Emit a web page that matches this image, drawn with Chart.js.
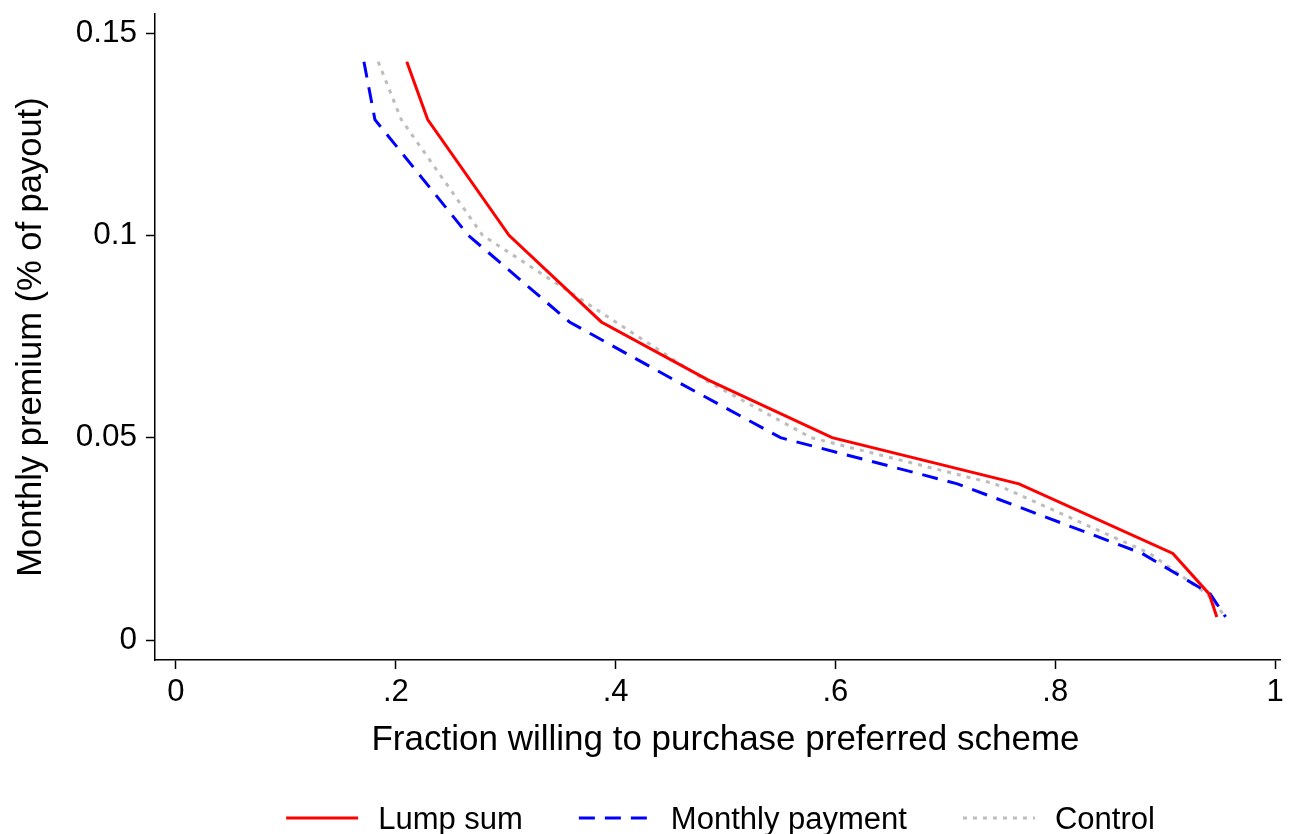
<!DOCTYPE html>
<html>
<head>
<meta charset="utf-8">
<title>Willingness to purchase by premium</title>
<script src="https://cdn.jsdelivr.net/npm/chart.js@4.4.1/dist/chart.umd.min.js"></script>
<style>
  html, body { margin: 0; padding: 0; background: #fff; }
  #wrap { width: 1291px; height: 834px; }
</style>
</head>
<body>
<div id="wrap"><canvas id="myChart" width="1291" height="834"></canvas></div>
<script>
// premium levels offered (share of payout), highest first
const premiums = [0.1429, 0.1286, 0.1, 0.0786, 0.0643, 0.05, 0.0386, 0.0214, 0.0114, 0.0057];

// fraction willing to buy at each premium level
const lumpSum = [0.210, 0.229, 0.303, 0.387, 0.484, 0.597, 0.767, 0.907, 0.940, 0.947];
const monthlyPayment = [0.171, 0.181, 0.266, 0.358, 0.453, 0.550, 0.711, 0.879, 0.941, 0.955];
const control = [0.184, 0.205, 0.279, 0.400, 0.481, 0.578, 0.745, 0.886, 0.938, 0.955];

const xTickValues = [0, 0.2, 0.4, 0.6, 0.8, 1];
const xTickLabels = ['0', '.2', '.4', '.6', '.8', '1'];
const yTickValues = [0, 0.05, 0.1, 0.15];
const yTickLabels = ['0', '0.05', '0.1', '0.15'];

const xTitle = 'Fraction willing to purchase preferred scheme';
const yTitle = 'Monthly premium (% of payout)';

const FONT = '"Liberation Sans", Arial, Helvetica, sans-serif';

const toPoints = (xs) => xs.map((x, i) => ({ x: x, y: premiums[i] }));

const ctx = document.getElementById('myChart').getContext('2d');

const data = {
    datasets: [
        {
            label: 'Lump sum',
            data: toPoints(lumpSum),
            borderColor: '#ff0000',
            borderWidth: 3,
            pointRadius: 0,
            fill: false
        },
        {
            label: 'Monthly payment',
            data: toPoints(monthlyPayment),
            borderColor: '#0000ff',
            borderWidth: 3,
            borderDash: [16, 10],
            pointRadius: 0,
            fill: false
        },
        {
            label: 'Control',
            data: toPoints(control),
            borderColor: '#bdbdbd',
            borderWidth: 3,
            borderDash: [4, 6],
            pointRadius: 0,
            fill: false
        }
    ]
};

// x title centred on the 0..1 tick range rather than the whole axis line
const xAxisTitle = {
    id: 'xAxisTitle',
    afterDraw(chart) {
        const c = chart.ctx;
        const sx = chart.scales.x;
        const mid = (sx.getPixelForValue(xTickValues[0]) + sx.getPixelForValue(xTickValues[xTickValues.length - 1])) / 2;
        c.save();
        c.font = '35px ' + FONT;
        c.fillStyle = '#000';
        c.textAlign = 'center';
        c.textBaseline = 'middle';
        c.fillText(xTitle, mid, 740);
        c.restore();
    }
};

// legend row under the axis title, one short line sample per series
const bottomLegend = {
    id: 'bottomLegend',
    afterDraw(chart) {
        const c = chart.ctx;
        const sampleLen = 72, textGap = 20, itemGap = 56;
        const baseline = 829, lineY = 818;
        c.save();
        c.font = '31px ' + FONT;
        const items = chart.data.datasets.map(ds => ({
            ds: ds,
            w: sampleLen + textGap + c.measureText(ds.label).width
        }));
        const total = items.reduce((s, it) => s + it.w, 0) + itemGap * (items.length - 1);
        const area = chart.chartArea;
        let x = (area.left + area.right) / 2 + 3 - total / 2;
        items.forEach(it => {
            c.beginPath();
            c.strokeStyle = it.ds.borderColor;
            c.lineWidth = it.ds.borderWidth;
            c.setLineDash(it.ds.borderDash || []);
            c.moveTo(x, lineY);
            c.lineTo(x + sampleLen, lineY);
            c.stroke();
            c.setLineDash([]);
            c.fillStyle = '#000';
            c.textBaseline = 'alphabetic';
            c.textAlign = 'left';
            c.fillText(it.ds.label, x + sampleLen + textGap, baseline);
            x += it.w + itemGap;
        });
        c.restore();
    }
};

const options = {
    responsive: false,
    animation: false,
    layout: {
        padding: { top: 14, right: 11, bottom: 0, left: 0 }
    },
    scales: {
        x: {
            type: 'linear',
            min: -0.0191,
            max: 1.0045,
            afterBuildTicks: (scale) => {
                scale.ticks = xTickValues.map(v => ({ value: v }));
            },
            afterFit: (scale) => {
                scale.height = 174;
                scale.paddingLeft = 0;
                scale.paddingRight = 0;
            },
            ticks: {
                autoSkip: false,
                maxRotation: 0,
                padding: 5,
                color: '#000',
                font: { family: FONT, size: 31 },
                callback: (value, index) => xTickLabels[index]
            },
            grid: {
                drawOnChartArea: false,
                drawTicks: true,
                tickLength: 9,
                tickWidth: 1.5,
                tickColor: '#000'
            },
            border: { display: true, color: '#000', width: 1.5 },
            title: { display: false }
        },
        y: {
            type: 'linear',
            min: -0.00494,
            max: 0.1547,
            afterBuildTicks: (scale) => {
                scale.ticks = yTickValues.map(v => ({ value: v }));
            },
            afterFit: (scale) => {
                scale.width = 155;
                scale.paddingTop = 0;
                scale.paddingBottom = 0;
            },
            ticks: {
                autoSkip: false,
                padding: 9,
                color: '#000',
                font: { family: FONT, size: 31.5 },
                callback: (value, index) => yTickLabels[index]
            },
            grid: {
                drawOnChartArea: false,
                drawTicks: true,
                tickLength: 9,
                tickWidth: 1.5,
                tickColor: '#000'
            },
            border: { display: true, color: '#000', width: 1.5 },
            title: {
                display: true,
                text: yTitle,
                color: '#000',
                font: { family: FONT, size: 34.5 },
                padding: { top: 11, bottom: 0 }
            }
        }
    },
    plugins: {
        legend: { display: false },
        tooltip: { enabled: false }
    }
};

const myChart = new Chart(ctx, {
    type: 'line',
    data: data,
    options: options,
    plugins: [xAxisTitle, bottomLegend]
});
</script>
</body>
</html>
